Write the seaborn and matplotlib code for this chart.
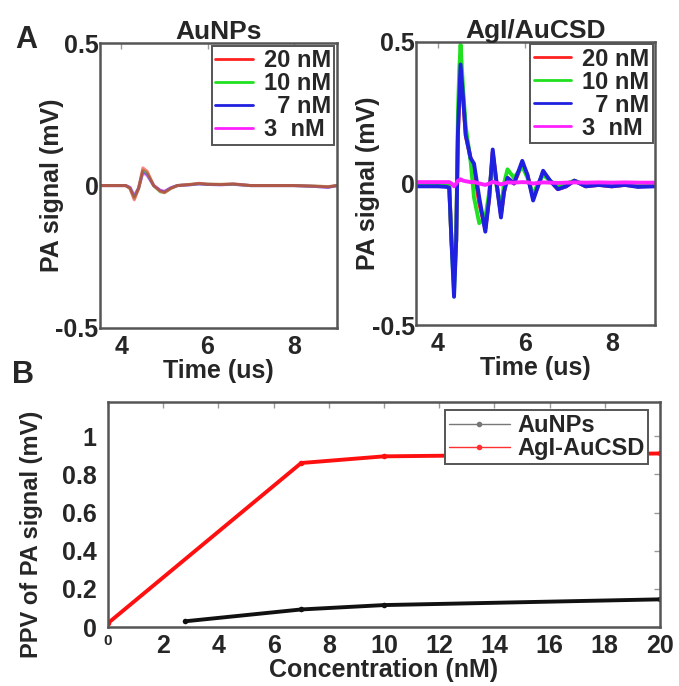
import numpy as np
import pandas as pd
import matplotlib
matplotlib.use("Agg")
import matplotlib.pyplot as plt
import seaborn as sns
from matplotlib.lines import Line2D

# ---------------- data ----------------
conc_labels = ["20 nM", "10 nM", "  7 nM", "3  nM"]
colors = ["#ff2020", "#20e020", "#2020e0", "#ff20ff"]

# Panel A left: AuNPs waveforms
t_au = [3.5, 4.1, 4.2, 4.3, 4.4, 4.5, 4.6, 4.75, 4.9, 5.0, 5.15, 5.3, 5.6, 5.8,
        6.0, 6.3, 6.6, 7.0, 8.0, 8.5, 8.8, 9.0]
au_20 = [0, 0, -0.01, -0.05, -0.01, 0.062, 0.05, 0.0, -0.02, -0.025, -0.01, 0.0,
         0.004, 0.008, 0.005, 0.004, 0.006, 0.0, 0.0, -0.002, -0.004, 0.0]
au_10 = [0, 0, -0.01, -0.045, -0.01, 0.055, 0.045, 0.0, -0.022, -0.025, -0.01, 0.0,
         0.004, 0.007, 0.005, 0.004, 0.005, 0.0, 0.0, -0.002, -0.004, 0.0]
au_7 = [0, 0, -0.008, -0.04, -0.01, 0.05, 0.04, 0.0, -0.018, -0.022, -0.008, 0.0,
        0.003, 0.006, 0.004, 0.003, 0.005, 0.0, 0.0, -0.003, -0.006, 0.0]
au_3 = [0, 0, -0.006, -0.035, -0.008, 0.045, 0.035, 0.0, -0.016, -0.02, -0.008, 0.0,
        0.003, 0.006, 0.004, 0.003, 0.004, 0.0, 0.0, -0.003, -0.006, 0.0]

# Panel A right: AgI/AuCSD waveforms
t_ag = [3.5, 4.0, 4.2, 4.26, 4.31, 4.37, 4.42, 4.46, 4.49, 4.52, 4.58, 4.64, 4.75,
        4.83, 4.95, 5.09, 5.18, 5.26, 5.35, 5.45, 5.52, 5.6, 5.75, 5.94, 6.06, 6.19,
        6.3, 6.42, 6.58, 6.76, 6.95, 7.14, 7.4, 7.7, 8.0, 8.3, 8.6, 9.0]
ag_20 = [0, 0, -0.005, -0.01, -0.2, -0.33, -0.2, 0.18, 0.3, 0.4, 0.3, 0.17, 0.09,
         0.05, -0.07, -0.16, -0.05, 0.11, 0.0, -0.11, -0.03, 0.02, 0.0, 0.07, 0.03,
         -0.05, -0.01, 0.04, 0.01, -0.02, -0.01, 0.01, -0.01, -0.005, -0.01, -0.005,
         -0.01, -0.008]
ag_10 = [0, 0, -0.005, -0.01, -0.2, -0.38, -0.2, 0.25, 0.4, 0.49, 0.33, 0.2, 0.08,
         -0.05, -0.14, -0.12, -0.03, 0.09, -0.01, -0.09, 0.0, 0.05, 0.02, 0.06, 0.02,
         -0.04, 0.0, 0.03, 0.01, -0.01, 0.0, 0.01, -0.005, 0.0, -0.005, 0.0, -0.005, 0.0]
ag_7 = [-0.01, -0.01, -0.012, -0.015, -0.2, -0.4, -0.2, 0.18, 0.3, 0.42, 0.3, 0.17,
        0.09, 0.07, -0.05, -0.17, -0.05, 0.12, 0.0, -0.12, -0.03, 0.02, 0.0, 0.08,
        0.03, -0.06, -0.01, 0.045, 0.01, -0.02, -0.01, 0.01, -0.01, -0.005, -0.01,
        -0.005, -0.012, -0.01]
ag_3 = [0.005, 0.005, 0.005, 0.005, 0.0, -0.01, 0.0, 0.01, 0.012, 0.015, 0.01, 0.008,
        0.005, 0.005, 0.0, -0.005, 0.0, 0.006, 0.002, -0.003, 0.0, 0.004, 0.003,
        0.005, 0.004, 0.0, 0.002, 0.004, 0.003, 0.002, 0.003, 0.004, 0.003, 0.004,
        0.003, 0.004, 0.003, 0.003]

# Panel B: peak-to-peak values vs concentration
conc_au = [2.8, 7, 10, 20]
ppv_au = [0.03, 0.092, 0.115, 0.145]
conc_ag = [0, 7, 10, 20]
ppv_ag = [0.02, 0.86, 0.895, 0.91]

# ---------------- style ----------------
sns.set_theme(style="white")
plt.rcParams["font.family"] = ["Liberation Sans", "DejaVu Sans"]
plt.rcParams["font.weight"] = "bold"
plt.rcParams["axes.labelweight"] = "bold"
plt.rcParams["axes.titleweight"] = "bold"

FS = 18
LFS = 17
fig = plt.figure(figsize=(6.79, 6.86), dpi=100)
axL = fig.add_axes([0.147, 0.522, 0.349, 0.415])
axR = fig.add_axes([0.613, 0.526, 0.352, 0.413])
axB = fig.add_axes([0.159, 0.086, 0.813, 0.328])

frame_col = "#555555"


def long_df(t, series):
    rows = []
    for lab, vals in zip(conc_labels, series):
        for ti, vi in zip(t, vals):
            rows.append((ti, vi, lab))
    return pd.DataFrame(rows, columns=["t", "v", "conc"])


def style_axes(ax):
    for sp in ax.spines.values():
        sp.set_color(frame_col)
        sp.set_linewidth(1.8)
    ax.tick_params(direction="in", top=True, right=True, length=4, width=1,
                   color="#999999", labelsize=FS)
    ax.tick_params(axis="x", pad=5)
    ax.tick_params(axis="y", pad=1)
    for lab in ax.get_xticklabels() + ax.get_yticklabels():
        lab.set_fontweight("bold")


pal = dict(zip(conc_labels, colors))
for ax, t, series, title, order, alpha, lw in [
    (axL, t_au, [au_20, au_10, au_7, au_3], "AuNPs",
     ["3  nM", "  7 nM", "10 nM", "20 nM"], 0.55, 2.2),
    (axR, t_ag, [ag_20, ag_10, ag_7, ag_3], "AgI/AuCSD", conc_labels, 1.0, 2.8),
]:
    df = long_df(t, series)
    sns.lineplot(data=df, x="t", y="v", hue="conc", hue_order=order,
                 palette=pal, sort=False, estimator=None, lw=lw, alpha=alpha,
                 ax=ax, legend=False)
    ax.set_xlim(3.5, 9)
    ax.set_ylim(-0.5, 0.5)
    ax.set_xticks([4, 6, 8])
    ax.set_yticks([-0.5, 0, 0.5])
    ax.set_yticklabels(["-0.5", "0", "0.5"])
    ax.set_xlabel("Time (us)", fontsize=FS, fontweight="bold", labelpad=0)
    ax.set_ylabel("PA signal (mV)", fontsize=FS, fontweight="bold", labelpad=-6)
    ax.set_title(title, fontsize=19, fontweight="bold", pad=3)
    style_axes(ax)
    handles = [Line2D([0], [0], color=c, lw=2) for c in colors]
    leg = ax.legend(handles, conc_labels, loc="upper right", frameon=True,
                    fancybox=False, framealpha=1, edgecolor=frame_col,
                    borderaxespad=0.1, handlelength=1.6, handletextpad=0.45,
                    labelspacing=0.0, borderpad=0.15,
                    prop={"weight": "bold", "size": LFS})
    leg.get_frame().set_linewidth(1.4)

# Panel B
dfB = pd.DataFrame({
    "conc": conc_au + conc_ag,
    "ppv": ppv_au + ppv_ag,
    "mat": ["AuNPs"] * len(conc_au) + ["AgI-AuCSD"] * len(conc_ag),
})
sns.lineplot(data=dfB, x="conc", y="ppv", hue="mat",
             hue_order=["AuNPs", "AgI-AuCSD"],
             palette={"AuNPs": "#111111", "AgI-AuCSD": "#ff1010"},
             sort=False, estimator=None, lw=2.8, marker="o", markersize=4,
             markeredgewidth=0, ax=axB, legend=False)
axB.set_xlim(0, 20)
axB.set_ylim(0, 1.18)
axB.set_xticks(np.arange(0, 21, 2))
axB.set_yticks([0, 0.2, 0.4, 0.6, 0.8, 1.0])
axB.set_yticklabels(["0", "0.2", "0.4", "0.6", "0.8", "1"])
axB.set_xlabel("Concentration (nM)", fontsize=FS, fontweight="bold", labelpad=0)
axB.set_ylabel("PPV of PA signal (mV)", fontsize=17, fontweight="bold")
axB.yaxis.set_label_coords(-0.118, 0.41)
style_axes(axB)
axB.get_xticklabels()[0].set_fontsize(11)
axB.tick_params(axis="y", pad=8)
hB = [Line2D([0], [0], color="#777777", lw=1, marker="o", markersize=3),
      Line2D([0], [0], color="#ff3030", lw=1, marker="o", markersize=3)]
legB = axB.legend(hB, ["AuNPs", "AgI-AuCSD"], loc="upper right",
                  bbox_to_anchor=(1.0, 1.015), fancybox=False, framealpha=1,
                  edgecolor=frame_col, handlelength=2.6, handletextpad=0.3,
                  labelspacing=0.0, borderpad=0.15,
                  prop={"weight": "bold", "size": LFS})
legB.get_frame().set_linewidth(1.4)

fig.text(0.022, 0.93, "A", fontsize=22, fontweight="bold")
fig.text(0.018, 0.442, "B", fontsize=22, fontweight="bold")

fig.savefig("out.png", dpi=100, facecolor="white")
